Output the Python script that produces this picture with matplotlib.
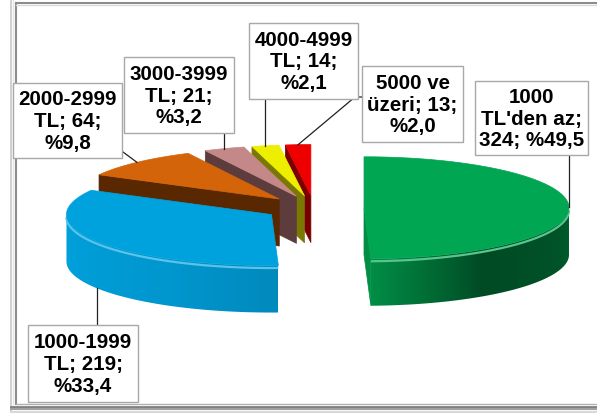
import numpy as np
import matplotlib.pyplot as plt
from matplotlib.patches import Polygon, Rectangle
from matplotlib.colors import to_rgb

# Gelir grupları ve kişi sayıları
categories = ["1000 TL'den az", "1000-1999 TL", "2000-2999 TL",
              "3000-3999 TL", "4000-4999 TL", "5000 ve üzeri"]
counts = [324, 219, 64, 21, 14, 13]

top_colors = ['#00A651', '#00A2DE', '#D4640A', '#C48888', '#EEEE00', '#EE0000']
face_colors = ['#008E44', '#0077A8', '#5A2800', '#5C3C3C', '#7A7800', '#780000']

label_templates = [
    "1000\nTL'den az;\n{n}; %{p}",
    "1000-1999\nTL; {n};\n%{p}",
    "2000-2999\nTL; {n};\n%{p}",
    "3000-3999\nTL; {n};\n%{p}",
    "4000-4999\nTL; {n};\n%{p}",
    "5000 ve\nüzeri; {n};\n%{p}",
]

# etiket kutuları (x0, y0, x1, y1)
label_boxes = [
    (475, 81, 588, 155),
    (28, 325, 138, 402),
    (13, 83, 122, 158),
    (124, 57, 234, 133),
    (249, 23, 358, 99),
    (362, 66, 463, 142),
]

# pasta geometrisi (piksel)
cx, cy = 314, 208
rx, ry = 205, 51
depth = 47
explode = 50
tilt = ry / rx

W, H = 597, 419
fig = plt.figure(figsize=(W / 100, H / 100), dpi=100)
ax = fig.add_axes([0, 0, 1, 1])
ax.set_xlim(0, W)
ax.set_ylim(H, 0)
ax.axis('off')

total = sum(counts)
cum = np.concatenate([[0], np.cumsum(counts)])
theta1 = 90 - cum[:-1] / total * 360   # başlangıç açısı
theta2 = 90 - cum[1:] / total * 360    # bitiş açısı (saat yönünde)
mids = (theta1 + theta2) / 2

centers = []
for m in mids:
    r = np.radians(m)
    centers.append((cx + explode * np.cos(r), cy - explode * np.sin(r) * tilt))


def arc_pt(c, ang, dz=0):
    r = np.radians(ang)
    return c[0] + rx * np.cos(r), c[1] - ry * np.sin(r) + dz


def shade(color, ang):
    a = ((ang + 180) % 360) - 180
    f = np.interp(a, [-180, -120, -88, -55, -20, 0], [1.0, 0.93, 0.85, 0.45, 0.5, 0.58])
    return np.clip(np.array(to_rgb(color)) * f, 0, 1)


def lighter(color, k=0.35):
    c = np.array(to_rgb(color))
    return tuple(c + (1 - c) * k)


order = np.argsort(-np.sin(np.radians(mids)))
for i in order:
    c = centers[i]
    t1, t2 = theta1[i], theta2[i]
    vx, vy = c

    # kesit yüzleri
    for ang, visible in ((t1, np.cos(np.radians(t1)) < -1e-6),
                         (t2, np.cos(np.radians(t2)) > 1e-6)):
        if visible:
            px, py = arc_pt(c, ang)
            ax.add_patch(Polygon([(vx, vy), (px, py), (px, py + depth), (vx, vy + depth)],
                                 closed=True, facecolor=face_colors[i],
                                 edgecolor=face_colors[i], lw=0.5))

    # dış yan yüz (öne bakan kısım), yatay renk geçişiyle
    for lo_f, hi_f in ((-180, 0), (-540, -360)):
        lo, hi = max(t2, lo_f), min(t1, hi_f)
        if hi <= lo:
            continue
        angs = np.linspace(lo, hi, 200)
        upper = [arc_pt(c, a) for a in angs]
        lower = [arc_pt(c, a, depth) for a in angs[::-1]]
        side = Polygon(upper + lower, closed=True, facecolor='none', edgecolor='none')
        ax.add_patch(side)
        xs = np.array([p[0] for p in upper])
        ys = np.array([p[1] for p in upper + lower])
        x0, x1 = xs.min(), xs.max()
        gx = np.linspace(x0, x1, 300)
        cosv = np.clip((gx - vx) / rx, -1, 1)
        gang = -np.degrees(np.arccos(cosv))
        img = np.array([[shade(top_colors[i], a) for a in gang]])
        im = ax.imshow(img, extent=(x0, x1, ys.max() + 1, ys.min() - 1),
                       aspect='auto', interpolation='bilinear', zorder=1)
        im.set_clip_path(side)
        hx, hy = zip(*[arc_pt(c, a, 2.5) for a in angs])
        ax.plot(hx, hy, color=lighter(top_colors[i]), lw=1.6,
                solid_capstyle='butt', zorder=1.5)

    # üst yüz
    angs = np.linspace(t1, t2, 120)
    pts = [(vx, vy)] + [arc_pt(c, a) for a in angs]
    ax.add_patch(Polygon(pts, closed=True, facecolor=top_colors[i],
                         edgecolor=top_colors[i], lw=0.5, zorder=2))

ax.set_xlim(0, W)
ax.set_ylim(H, 0)

# etiketler ve bağlantı çizgileri
for i, (x0, y0, x1, y1) in enumerate(label_boxes):
    pct = f"{counts[i] / total * 100:.1f}".replace('.', ',')
    txt = label_templates[i].format(n=counts[i], p=pct)
    ax.add_patch(Rectangle((x0, y0), x1 - x0, y1 - y0, facecolor='white',
                           edgecolor='#A8A8A8', lw=1.0, zorder=5))
    ax.text((x0 + x1) / 2, (y0 + y1) / 2 + 1, txt, ha='center', va='center',
            fontsize=14.8, fontweight='bold', family='Liberation Sans',
            linespacing=1.18, zorder=6)

    c = centers[i]
    if i == 1:
        ax_, ay_ = arc_pt(c, mids[i], depth)
    else:
        ax_, ay_ = arc_pt(c, mids[i])
    if i == 2:
        xs, ys = [x1 + 1, ax_], [y1 - 6, ay_]
    elif i == 5:
        xs, ys = [x0, x0 - 7, ax_], [97, 97, ay_]
    elif i == 1:
        xs, ys = [ax_, ax_], [y0, ay_]
    else:
        xs, ys = [ax_, ax_], [y1, ay_]
    ax.plot(xs, ys, color='#202020', lw=0.9, zorder=4)

# çerçeve
ax.plot([15.5, 15.5], [3.5, 404], color='#8C8C8C', lw=1.5)
ax.plot([15.5, W], [3.5, 3.5], color='#8C8C8C', lw=1.5)
ax.plot([15.5, W], [5, 5], color='#DADADA', lw=1)
ax.plot([10.5, 10.5], [0, 411], color='#C8C8C8', lw=1.2)
ax.plot([13, 13], [0, 408], color='#E6E6E6', lw=1)
ax.plot([15.5, W], [404, 404], color='#B0B0B0', lw=1)
ax.plot([11, W], [406.5, 406.5], color='#808080', lw=2)
ax.plot([11, W], [409, 409], color='#A0A0A0', lw=1.5)
ax.plot([11, W], [411.5, 411.5], color='#D8D8D8', lw=1.5)

fig.savefig('out.png', dpi=100)
